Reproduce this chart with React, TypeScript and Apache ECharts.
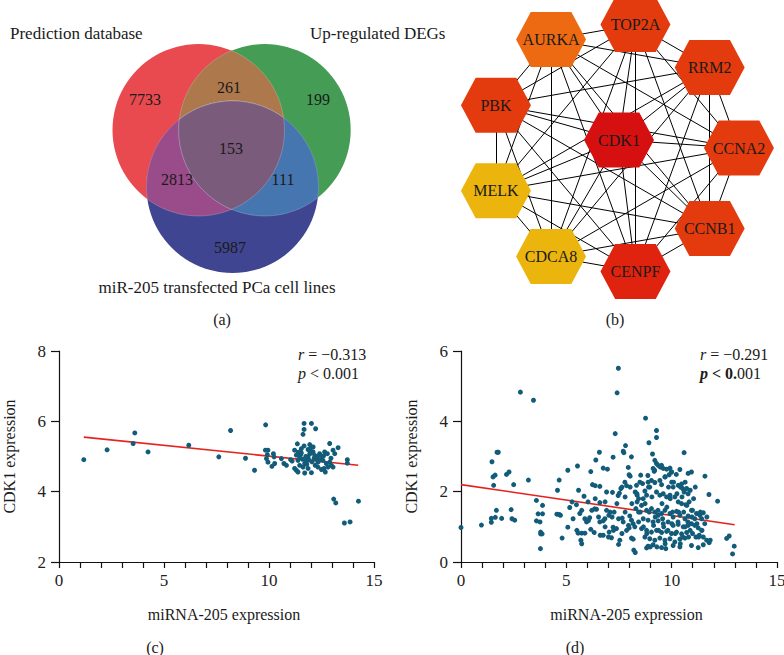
import { useEffect, useRef } from 'react';
import * as echarts from 'echarts';

// ---------- DATA ----------
// Venn: regions Pred only, DEG only, miR only, Pred∩DEG, Pred∩miR, DEG∩miR, all three
const vennSetNames = ['Prediction database', 'Up-regulated DEGs', 'miR-205 transfected PCa cell lines'];
const vennRegionCounts = [7733, 199, 5987, 261, 2813, 111, 153];

// Network
const ringGenes = ['CCNA2', 'RRM2', 'TOP2A', 'AURKA', 'PBK', 'MELK', 'CDCA8', 'CENPF', 'CCNB1'];
const hubGene = 'CDK1';

// Scatter (c)
const cPoints: number[][] = [
  [1.18, 4.91], [2.29, 5.19], [3.53, 5.37], [3.61, 5.67], [4.24, 5.13], [6.18, 5.32], [7.61, 4.99], [8.17, 5.74],
  [8.88, 4.95], [9.31, 4.61], [9.84, 5.90],
  [11.67, 5.94], [12.02, 5.94], [11.67, 5.77], [11.62, 5.63], [12.22, 5.79], [11.35, 5.36], [11.67, 5.30], [11.94, 5.34],
  [12.02, 5.27], [13.29, 5.25], [13.05, 5.18], [9.83, 5.18], [9.95, 5.18], [9.88, 4.94], [9.95, 4.84], [9.92, 5.05],
  [10.21, 5.08], [10.24, 4.99], [10.27, 4.80], [10.14, 4.72], [10.59, 4.94], [10.71, 4.80], [10.83, 4.75], [11.03, 4.91],
  [11.10, 4.87], [11.22, 5.18], [11.30, 5.04], [11.38, 4.89], [11.46, 4.99], [11.54, 5.10], [11.22, 4.66], [11.30, 4.61],
  [11.38, 4.56], [11.70, 4.53], [12.02, 4.54], [11.70, 4.80], [11.78, 4.89], [11.86, 4.99], [11.94, 5.08], [12.10, 5.13],
  [12.18, 5.03], [12.26, 4.94], [12.33, 4.84], [12.41, 5.08], [12.50, 4.99], [12.57, 4.89], [12.65, 5.13], [12.73, 4.80],
  [12.81, 4.70], [12.89, 4.84], [12.97, 4.75], [13.05, 4.70], [13.13, 5.08], [12.62, 4.66], [12.68, 4.56], [13.73, 4.91],
  [13.73, 4.81], [11.86, 5.20], [11.54, 5.22], [12.10, 5.27], [11.46, 4.75], [11.62, 4.70], [11.86, 4.66], [12.33, 4.70],
  [12.50, 4.63], [12.89, 5.37], [12.78, 5.08], [11.50, 5.05], [11.75, 5.00], [11.90, 4.90], [12.00, 5.10], [12.15, 4.95],
  [12.30, 5.00], [12.45, 4.90], [11.60, 4.92], [11.80, 4.78], [12.05, 4.85], [12.20, 4.75], [11.40, 5.12], [12.60, 5.02],
  [12.95, 4.95], [11.95, 5.20],
  [13.08, 3.79], [13.18, 3.68], [14.26, 3.73], [13.59, 3.11], [13.86, 3.14],
];
const cFit: number[][] = [[1.18, 5.55], [14.25, 4.75]];
const cStats = ['−0.313', '< 0.001'];

// Scatter (d)
const dPoints: number[][] = [
  [2.82, 4.83], [3.44, 4.60], [1.71, 3.12], [1.77, 3.12], [1.47, 2.85], [1.52, 2.42], [1.62, 2.47], [1.55, 2.18],
  [2.16, 2.49], [2.28, 2.56], [2.50, 2.20], [3.20, 2.33], [4.66, 2.33], [4.58, 2.04], [3.58, 1.75], [3.87, 1.61],
  [3.66, 1.37], [3.87, 1.37], [3.58, 1.17], [3.75, 1.14], [3.78, 0.85], [3.85, 0.80], [3.78, 0.80], [3.77, 0.38],
  [1.68, 1.47], [2.38, 1.49], [1.44, 1.24], [1.44, 1.13], [1.63, 1.27], [1.93, 1.24], [2.42, 1.23], [2.55, 1.19],
  [0.97, 1.05], [0, 0.98], [4.55, 1.36], [4.66, 1.35],
  [7.47, 5.51], [7.41, 4.81], [7.32, 3.65], [7.81, 3.31], [7.70, 3.15], [7.73, 3.11], [8.09, 2.99], [6.57, 3.12],
  [7.22, 2.98], [6.40, 2.90], [5.53, 2.73], [5.07, 2.61], [6.16, 2.57], [6.75, 2.67], [6.95, 2.64], [7.94, 2.69],
  [7.98, 2.48], [8.03, 2.44], [6.24, 2.20], [6.37, 2.17], [6.59, 2.15], [5.58, 2.04], [6.91, 1.99], [7.19, 1.98],
  [7.59, 2.09], [7.52, 1.96], [7.46, 1.89], [7.78, 2.27], [7.86, 2.17], [8.33, 2.18], [8.27, 1.99], [8.36, 1.90],
  [8.43, 1.80], [5.84, 1.87], [6.03, 1.71], [5.27, 1.71], [5.48, 1.63], [6.59, 1.69], [6.34, 1.51], [6.43, 1.50],
  [5.16, 1.55], [5.32, 1.23], [5.64, 1.38], [4.72, 1.33], [5.88, 1.23], [5.96, 1.14], [6.11, 1.26], [6.91, 1.47],
  [7.02, 1.33], [7.17, 1.28], [7.27, 1.42], [7.65, 1.25], [7.70, 1.14], [6.59, 1.14], [6.75, 1.17], [6.83, 1.23],
  [8.01, 1.31], [8.09, 1.19], [8.17, 1.09], [8.25, 1.00], [8.30, 1.52], [8.36, 1.71], [8.43, 1.42], [5.07, 0.99],
  [5.56, 0.82], [5.73, 0.82], [5.88, 0.82], [5.69, 0.62], [5.73, 0.52], [6.16, 0.93], [6.32, 0.84], [4.80, 0.68],
  [6.75, 0.76], [7.03, 0.85], [7.14, 0.69], [7.22, 0.99], [7.38, 0.95], [7.54, 0.62], [7.48, 0.50], [7.86, 0.90],
  [7.98, 0.97], [8.09, 0.68], [8.17, 0.65], [8.20, 0.34], [8.27, 0.27],
  [8.76, 4.09], [9.28, 3.74], [9.28, 3.54], [8.92, 3.39], [10.59, 3.11], [9.09, 3.07], [9.20, 2.89], [9.28, 2.80],
  [9.36, 2.75], [9.12, 2.66], [9.17, 2.58], [9.52, 2.75], [9.60, 2.66], [9.76, 2.64], [9.92, 2.67], [10.0, 2.56],
  [9.88, 2.48], [9.68, 2.42], [10.39, 2.63], [10.78, 2.52], [8.53, 2.47], [8.49, 2.27], [8.88, 2.27], [9.04, 2.32],
  [9.20, 2.26], [8.96, 2.13], [9.44, 2.32], [9.52, 2.20], [10.0, 2.27], [10.07, 2.13], [10.31, 2.18], [10.47, 2.22],
  [10.52, 2.09], [10.71, 2.09], [10.59, 1.99], [10.78, 1.94], [8.73, 2.02], [8.81, 1.90], [8.65, 1.80], [9.28, 1.99],
  [9.44, 1.90], [9.60, 1.94], [9.76, 1.85], [9.92, 1.90], [10.15, 1.85], [10.31, 1.71], [10.47, 1.66], [10.67, 1.63],
  [10.83, 1.71], [8.57, 1.61], [8.81, 1.47], [9.04, 1.52], [9.20, 1.42], [9.36, 1.33], [9.52, 1.38], [9.68, 1.47],
  [9.92, 1.38], [10.07, 1.28], [10.23, 1.44], [10.39, 1.33], [10.63, 1.23], [10.78, 1.31],
  [8.65, 1.23], [8.88, 1.19], [9.12, 1.14], [9.36, 1.17], [9.60, 1.09], [9.83, 1.14], [10.07, 1.04], [10.31, 1.07],
  [10.55, 1.00], [10.78, 1.04], [8.57, 0.95], [8.81, 0.90], [9.04, 0.85], [9.28, 0.90], [9.52, 0.84], [9.76, 0.87],
  [9.99, 0.81], [10.23, 0.85], [10.47, 0.80], [10.71, 0.84], [8.73, 0.71], [8.96, 0.66], [9.20, 0.62], [9.44, 0.68],
  [9.68, 0.62], [9.92, 0.66], [10.15, 0.57], [10.39, 0.65], [10.63, 0.68], [8.81, 0.40], [8.88, 0.45], [9.12, 0.49],
  [9.52, 0.41], [9.72, 0.38], [10.07, 0.47], [10.39, 0.43],
  [10.94, 2.56], [11.58, 2.44], [11.77, 1.92], [12.18, 1.73], [10.94, 1.47], [11.18, 1.38], [11.34, 1.33], [11.50, 1.40],
  [11.10, 1.23], [11.42, 1.23], [10.94, 1.09], [11.10, 1.04], [11.26, 0.97], [11.42, 0.90], [10.99, 0.81], [11.15, 0.71],
  [11.31, 0.76], [11.50, 0.71], [11.66, 0.62], [11.78, 0.55], [10.94, 0.47], [11.26, 0.41], [11.50, 0.49], [12.61, 0.67],
  [12.73, 0.74], [12.97, 0.45], [12.89, 0.23],
  [8.35, 1.94], [8.51, 1.42], [8.74, 1.66], [8.90, 2.13], [9.06, 1.85], [9.22, 1.28], [9.38, 0.90], [9.54, 1.66],
  [9.69, 0.52], [9.85, 2.13], [10.01, 1.09], [10.17, 0.81], [10.33, 1.42], [10.49, 1.85], [10.64, 1.00], [10.80, 0.71],
  [10.96, 1.28], [11.20, 1.09], [11.44, 0.90], [11.67, 1.28], [11.83, 0.62], [8.82, 0.81], [8.98, 0.43], [9.30, 0.43],
  [9.62, 1.00], [9.77, 1.56], [9.93, 1.80], [10.09, 2.27], [10.25, 1.94], [10.41, 0.52], [10.57, 1.42], [10.72, 1.61],
  [10.88, 0.90], [11.04, 1.80], [11.36, 1.42], [8.62, 2.23], [8.87, 2.46], [9.19, 2.61], [9.46, 2.70], [9.69, 2.42],
  [9.98, 2.56], [10.22, 2.49], [10.42, 2.13], [10.64, 2.27], [10.88, 2.04], [11.12, 2.13], [8.43, 1.14], [8.66, 1.00],
  [8.93, 1.42], [9.14, 1.04], [9.35, 1.47], [9.57, 1.23], [9.82, 0.90], [10.04, 1.42], [10.30, 1.14], [10.52, 0.71],
  [10.77, 1.14], [10.99, 1.47], [11.28, 0.71], [11.57, 1.09],
  [6.05, 1.18], [6.21, 1.47], [6.53, 1.28], [6.84, 1.00], [7.08, 1.42], [7.24, 0.90], [7.48, 1.23], [7.64, 0.81],
  [7.79, 1.42], [7.95, 1.04], [7.00, 0.71], [6.61, 0.76], [7.64, 2.13], [7.79, 1.85], [7.40, 1.66], [6.84, 1.71],
  [6.37, 1.80], [5.73, 1.47], [5.50, 0.90], [8.11, 1.66], [8.03, 2.13],
];
const dFit: number[][] = [[0, 2.2], [12.99, 1.06]];
const dStats = ['−0.291', '< 0.001'];

// ---------- LAYOUT / STYLE ----------
const W = 784;
const H = 655;
const FONT = '"Liberation Serif", "DejaVu Serif", serif';
const TXT = '#1a1a1a';

type Circ = { x: number; y: number; r: number };
const vR: Circ = { x: 198.5, y: 130, r: 86 };
const vG: Circ = { x: 264.7, y: 130, r: 86 };
const vB: Circ = { x: 232.5, y: 187, r: 86 };
const vennColors = ['#E84A50', '#459C55', '#3F4590', '#AD784C', '#9A4B89', '#4676B0', '#7A5B7B'];
const vennNumPos = [[145, 99], [318, 99], [230, 247], [229, 87], [177, 179], [283, 179], [231, 148]];
const vennNamePos: [number, number, string][] = [[10, 33, 'left'], [310, 33, 'left'], [217, 287, 'center']];

const ringCenter = [613.7, 148];
const ringRadius = 125.3;
const hubPos = [619, 140];
const geneColor: Record<string, string> = {
  CCNA2: '#E33A0E', RRM2: '#E33A0E', TOP2A: '#E33A0E', PBK: '#E33A0E', CCNB1: '#E33A0E',
  AURKA: '#EE6A12', MELK: '#EBB50D', CDCA8: '#EBB50D', CENPF: '#E0230E', CDK1: '#D61010',
};
const HEX = 'path://M21,0 L79,0 L100,50 L79,100 L21,100 L0,50 Z';

function inside(p: number[], c: Circ) {
  return Math.hypot(p[0] - c.x, p[1] - c.y) <= c.r + 0.01;
}
function intersect(a: Circ, b: Circ): number[][] {
  const dx = b.x - a.x, dy = b.y - a.y;
  const d = Math.hypot(dx, dy);
  const l = (a.r * a.r - b.r * b.r + d * d) / (2 * d);
  const h = Math.sqrt(a.r * a.r - l * l);
  const mx = a.x + (dx * l) / d, my = a.y + (dy * l) / d;
  return [[mx - (dy * h) / d, my + (dx * h) / d], [mx + (dy * h) / d, my - (dx * h) / d]];
}
function arc(c: Circ, p: number[], q: number[], others: Circ[], n = 60): number[][] {
  const a0 = Math.atan2(p[1] - c.y, p[0] - c.x);
  const a1 = Math.atan2(q[1] - c.y, q[0] - c.x);
  let d = a1 - a0;
  while (d <= -Math.PI) d += 2 * Math.PI;
  while (d > Math.PI) d -= 2 * Math.PI;
  const cands = [d, d > 0 ? d - 2 * Math.PI : d + 2 * Math.PI];
  let use = cands[0];
  for (const dd of cands) {
    const am = a0 + dd / 2;
    const mp = [c.x + c.r * Math.cos(am), c.y + c.r * Math.sin(am)];
    if (others.every((o) => inside(mp, o))) { use = dd; break; }
  }
  const pts: number[][] = [];
  for (let i = 0; i < n; i++) {
    const a = a0 + (use * i) / n;
    pts.push([c.x + c.r * Math.cos(a), c.y + c.r * Math.sin(a)]);
  }
  return pts;
}
function lens(a: Circ, b: Circ) {
  const [p, q] = intersect(a, b);
  return arc(a, p, q, [b]).concat(arc(b, q, p, [a]));
}
function triple(a: Circ, b: Circ, c: Circ) {
  const pab = intersect(a, b).find((p) => inside(p, c))!;
  const pac = intersect(a, c).find((p) => inside(p, b))!;
  const pbc = intersect(b, c).find((p) => inside(p, a))!;
  return arc(a, pab, pac, [b, c]).concat(arc(c, pac, pbc, [a, b])).concat(arc(b, pbc, pab, [a, c]));
}

function txt(x: number, y: number, text: string, size: number, align = 'center', extra: any = {}) {
  return {
    type: 'text', x, y, z: 10,
    style: {
      text, fontSize: size, fontFamily: FONT, fill: TXT,
      textAlign: align, align, textVerticalAlign: 'middle', verticalAlign: 'middle', ...extra,
    },
  };
}

function statText(x: number, y: number, sym: string, val: string, boldHead: boolean) {
  const fs = 16;
  const rich: any = {
    i: { fontStyle: 'italic', fontSize: fs, fontFamily: FONT, fill: TXT, fontWeight: boldHead ? 'bold' : 'normal' },
    b: { fontSize: fs, fontFamily: FONT, fill: TXT, fontWeight: 'bold' },
    n: { fontSize: fs, fontFamily: FONT, fill: TXT },
  };
  let text: string;
  if (boldHead) {
    const head = val.slice(0, 4);
    const tail = val.slice(4);
    text = `{i|${sym}}{b| ${head}}{n|${tail}}`;
  } else {
    text = `{i|${sym}}{n| ${val}}`;
  }
  return {
    type: 'text', x, y, z: 10,
    style: { text, rich, fontSize: fs, fontFamily: FONT, textAlign: 'left', align: 'left', textVerticalAlign: 'middle', verticalAlign: 'middle' },
  };
}

function scatterAxes(gridIndex: number, ymin: number, ymax: number) {
  const axisLine = { show: true, lineStyle: { color: '#111', width: 1.2 } };
  const tickStyle = { color: '#111', width: 1.2 };
  const label = { fontSize: 17, fontFamily: FONT, color: '#222' };
  const x = {
    type: 'value', gridIndex, min: 0, max: 15, interval: 1,
    axisLine, axisTick: { show: true, inside: false, length: 6, lineStyle: tickStyle }, splitLine: { show: false },
    axisLabel: { ...label, margin: 10, formatter: (v: number) => (v % 5 === 0 ? String(v) : '') },
    name: 'miRNA-205 expression', nameLocation: 'middle', nameGap: 44,
    nameTextStyle: { fontSize: 16, fontFamily: FONT, color: TXT, padding: [0, 0, 0, 15] },
  };
  const y = {
    type: 'value', gridIndex, min: ymin, max: ymax, interval: 2,
    axisLine, axisTick: { show: true, inside: false, length: 8, lineStyle: tickStyle }, splitLine: { show: false },
    axisLabel: { ...label, margin: 13 },
    name: 'CDK1 expression', nameLocation: 'middle', nameGap: 42,
    nameTextStyle: { fontSize: 16, fontFamily: FONT, color: TXT },
  };
  return { x, y };
}

export default function App() {
  const ref = useRef<HTMLDivElement>(null);
  useEffect(() => {
    if (!ref.current) return;
    const chart = echarts.init(ref.current, undefined, { renderer: 'svg' });

    const edge = 'rgba(255,255,255,0.25)';
    const vennShapes: any[] = [
      { type: 'circle', shape: { cx: vR.x, cy: vR.y, r: vR.r }, style: { fill: vennColors[0] } },
      { type: 'circle', shape: { cx: vG.x, cy: vG.y, r: vG.r }, style: { fill: vennColors[1] } },
      { type: 'circle', shape: { cx: vB.x, cy: vB.y, r: vB.r }, style: { fill: vennColors[2] } },
      { type: 'polygon', shape: { points: lens(vR, vG) }, style: { fill: vennColors[3], stroke: edge, lineWidth: 0.8 } },
      { type: 'polygon', shape: { points: lens(vR, vB) }, style: { fill: vennColors[4], stroke: edge, lineWidth: 0.8 } },
      { type: 'polygon', shape: { points: lens(vG, vB) }, style: { fill: vennColors[5], stroke: edge, lineWidth: 0.8 } },
      { type: 'polygon', shape: { points: triple(vR, vG, vB) }, style: { fill: vennColors[6], stroke: edge, lineWidth: 0.8 } },
    ];
    const vennTexts = vennRegionCounts.map((v, i) => txt(vennNumPos[i][0], vennNumPos[i][1], String(v), 16));
    const vennNames = vennSetNames.map((s, i) => txt(vennNamePos[i][0], vennNamePos[i][1], s, 17, vennNamePos[i][2]));

    const panelLabels = [
      txt(222, 319, '(a)', 16), txt(615, 319, '(b)', 16),
      txt(155, 647, '(c)', 16), txt(575, 647, '(d)', 16),
    ];
    const stats = [
      statText(298, 354, 'r', '= ' + cStats[0], false),
      statText(298, 373, 'p', cStats[1], false),
      statText(700, 354, 'r', '= ' + dStats[0], false),
      statText(700, 373, 'p', dStats[1], true),
    ];

    const ringNodes = ringGenes.map((g, i) => {
      const a = (i * 40 * Math.PI) / 180;
      return { name: g, value: [ringCenter[0] + ringRadius * Math.cos(a), ringCenter[1] - ringRadius * Math.sin(a)] };
    });
    const nodes = [...ringNodes, { name: hubGene, value: hubPos }].map((n) => ({
      ...n, itemStyle: { color: geneColor[n.name] },
    }));
    const allGenes = nodes.map((n) => n.name);
    const links: any[] = [];
    for (let i = 0; i < allGenes.length; i++)
      for (let j = i + 1; j < allGenes.length; j++) links.push({ source: allGenes[i], target: allGenes[j] });

    const ca = scatterAxes(0, 2, 8);
    const da = scatterAxes(1, 0, 6);

    chart.setOption({
      animation: false,
      backgroundColor: '#ffffff',
      grid: [
        { left: 59, top: 351, width: 315, height: 211, outerBoundsMode: 'none', containLabel: false },
        { left: 461, top: 351, width: 316, height: 211, outerBoundsMode: 'none', containLabel: false },
        { left: 0, top: 0, width: W, height: H, outerBoundsMode: 'none', containLabel: false },
      ],
      xAxis: [ca.x, da.x, { type: 'value', gridIndex: 2, min: 0, max: W, show: false }],
      yAxis: [ca.y, da.y, { type: 'value', gridIndex: 2, min: 0, max: H, inverse: true, show: false }],
      series: [
        {
          type: 'line', xAxisIndex: 0, yAxisIndex: 0, data: cFit, symbol: 'none',
          lineStyle: { color: '#E5231E', width: 1.6 }, z: 2, silent: true,
        },
        {
          type: 'scatter', xAxisIndex: 0, yAxisIndex: 0, data: cPoints, symbolSize: 5,
          itemStyle: { color: '#125C7A', opacity: 1 }, z: 3, silent: true,
        },
        {
          type: 'line', xAxisIndex: 1, yAxisIndex: 1, data: dFit, symbol: 'none',
          lineStyle: { color: '#E5231E', width: 1.6 }, z: 2, silent: true,
        },
        {
          type: 'scatter', xAxisIndex: 1, yAxisIndex: 1, data: dPoints, symbolSize: 5,
          itemStyle: { color: '#125C7A', opacity: 1 }, z: 3, silent: true,
        },
        {
          type: 'graph', coordinateSystem: 'cartesian2d', xAxisIndex: 2, yAxisIndex: 2,
          layout: 'none', symbol: HEX, symbolSize: [70, 55], data: nodes, links,
          lineStyle: { color: '#000', width: 1, opacity: 1, curveness: 0 },
          label: { show: true, position: 'inside', color: TXT, fontSize: 16, fontFamily: FONT },
          emphasis: { disabled: true }, silent: true, z: 3,
        },
      ],
      graphic: [...vennShapes, ...vennTexts, ...vennNames, ...panelLabels, ...stats],
    });
    return () => chart.dispose();
  }, []);
  return <div ref={ref} style={{ position: 'fixed', left: 0, top: 0, width: W, height: H, background: '#fff' }} />;
}
